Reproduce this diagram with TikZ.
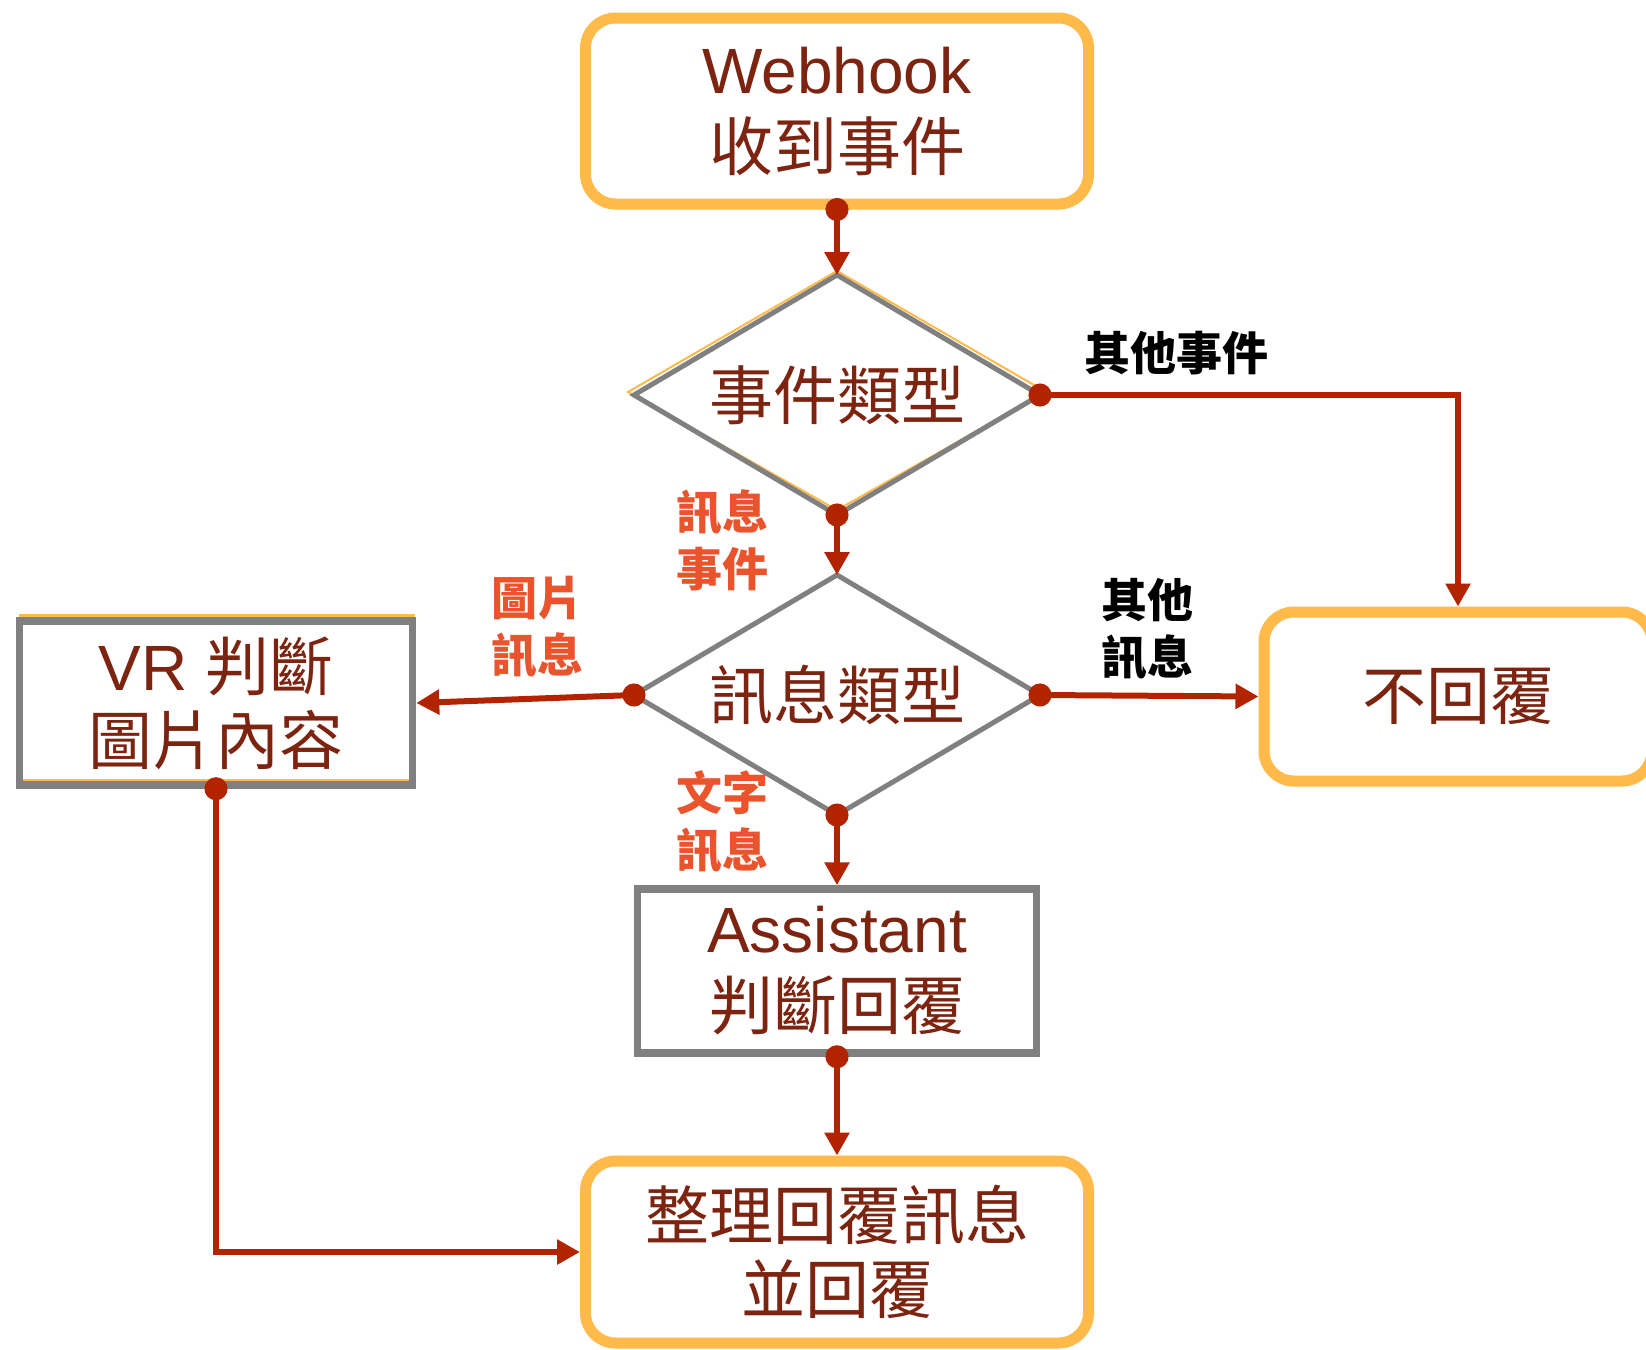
\documentclass[tikz,border=0pt]{standalone}
\usepackage{fontspec}
\setmainfont{Liberation Sans}
\newfontfamily\cjk{Noto Sans CJK TC}
\usepackage{tikz}
\usetikzlibrary{shapes.geometric,arrows.meta,positioning}
\definecolor{boxorange}{RGB}{255,186,73}
\definecolor{boxgray}{RGB}{128,128,128}
\definecolor{linkred}{RGB}{178,36,0}
\definecolor{textbrown}{RGB}{124,36,16}
\definecolor{labelorange}{RGB}{233,84,44}

\begin{document}
\begin{tikzpicture}[x=0.5pt, y=-0.5pt,
  startstop/.style={rectangle, rounded corners=15pt, draw=boxorange, line width=5.5pt, minimum width=251.5pt, minimum height=93pt, align=center, text=textbrown, font=\fontsize{32}{37}\selectfont},
  process/.style={rectangle, draw=boxgray, line width=3.75pt, align=center, text=textbrown, font=\fontsize{32}{37}\selectfont},
  decision/.style={diamond, draw=boxgray, line width=2.5pt, aspect=1.7, inner sep=0pt, outer sep=0pt, minimum width=203pt, minimum height=120pt, text=textbrown, font=\cjk\fontsize{32}{37}\selectfont},
  ghost/.style={draw=boxorange, line width=1pt},
  flow/.style={draw=linkred, line width=3pt, {Circle[length=11.5pt]}-{Triangle[length=11.5pt,width=12pt]}, shorten <=-5.75pt},
  tag/.style={align=center, font=\cjk\bfseries\fontsize{23}{28.5}\selectfont}]
   \path[use as bounding box, fill=white] (0,0) rectangle (1646,1350);
   \draw[ghost] (837,271) -- (628,392) -- (837,510) -- (1046,392) -- cycle;
   \draw[ghost, line width=1.5pt] (20,615) rectangle (413,780);

   \node[startstop] (webhook) at (837,111) {Webhook\\[1.5pt]{\cjk 收到事件}};
   \node[decision] (evtype) at (837,395) {事件類型};
   \node[decision] (msgtype) at (837,695) {訊息類型};
   \node[process, minimum width=196.5pt, minimum height=82pt] (vr) at (216,703) {VR {\cjk 判斷}\\{\cjk 圖片內容}};
   \node[process, minimum width=199.5pt, minimum height=82pt] (assistant) at (837,971) {Assistant\\[1.5pt]{\cjk 判斷回覆}};
   \node[startstop, minimum width=194pt, minimum height=84.5pt] (noreply) at (1458,696.5) {\cjk 不回覆};
   \node[startstop, minimum height=91pt] (reply) at (837,1252) {{\cjk 整理回覆訊息}\\{\cjk 並回覆}};

   \node[tag] (lbevother) at (1176,353) {其他事件};
   \node[tag, text=labelorange] (lbmsg) at (722,540) {訊息\\事件};
   \node[tag, text=labelorange] (lbimage) at (537,627) {圖片\\訊息};
   \node[tag] (lbmsgother) at (1147,629) {其他\\訊息};
   \node[tag, text=labelorange] (lbtext) at (722,822) {文字\\訊息};

   \draw[flow] (webhook.south) -- (evtype.north);
   \draw[flow] (evtype.east) -| (noreply.north);
   \draw[flow] (evtype.south) -- (msgtype.north);
   \draw[flow] (msgtype.west) -- (vr.east);
   \draw[flow] (msgtype.east) -- (noreply.west);
   \draw[flow] (msgtype.south) -- (assistant.north);
   \draw[flow] (assistant.south) -- (reply.north);
   \draw[flow] (vr.south) |- (reply.west);
\end{tikzpicture}
\end{document}
